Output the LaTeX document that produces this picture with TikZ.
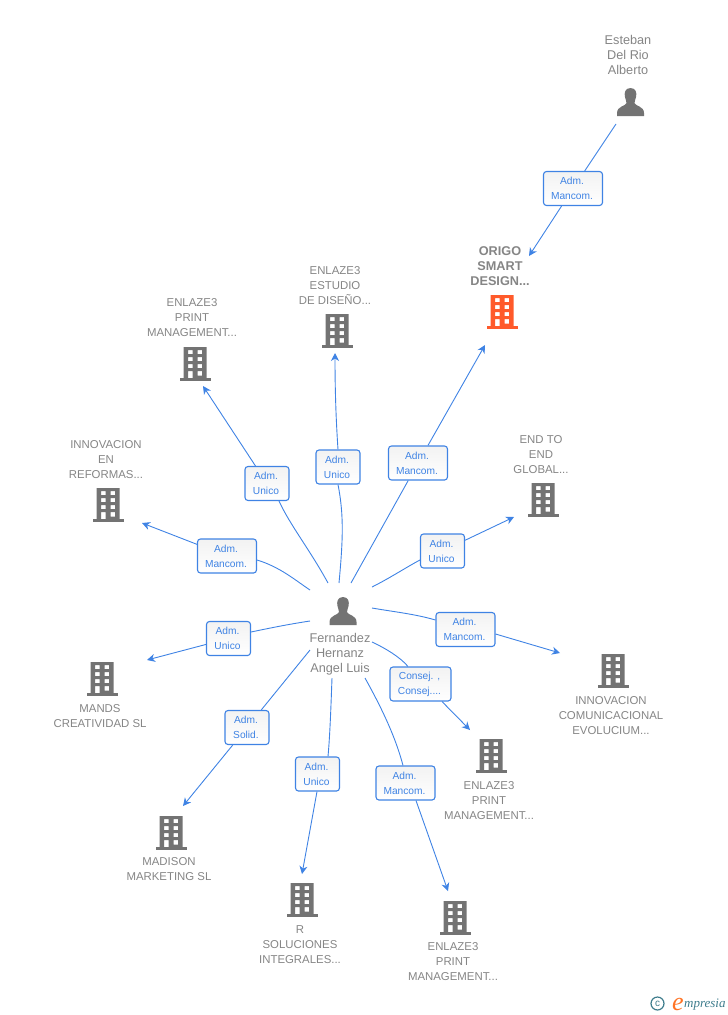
\documentclass[tikz,border=0pt]{standalone}
\usepackage{fontspec}
\setmainfont{Liberation Sans}
\newfontfamily\logofont{Liberation Serif}
\usetikzlibrary{arrows.meta,shadings}
\definecolor{linkblue}{HTML}{3F83E4}
\definecolor{txtgray}{HTML}{858585}
\definecolor{icongray}{HTML}{737373}
\definecolor{hotorange}{HTML}{FF5A2B}
\definecolor{logoteal}{HTML}{3E7C8C}
\newcommand{\rl}[2]{#1\hspace*{2pt}\\#2\hspace*{2pt}}
\tikzset{
  x=1pt,y=-1pt,
  conn/.style={draw=linkblue,line width=0.9pt},
  connarrow/.style={conn,-{Stealth[length=8pt,width=8pt,inset=2.5pt]}},
  rolebox/.style={draw=linkblue,line width=1.1pt,rounded corners=3pt,top color=black!5,bottom color=white,inner sep=0pt,align=center,text=linkblue,
     font=\fontsize{10.2}{15}\selectfont,minimum height=34pt},
  rolem/.style={rolebox,minimum width=59pt},
  roleu/.style={rolebox,minimum width=44pt},
  nametxt/.style={text=txtgray,align=center,inner sep=0pt,font=\fontsize{11.4}{15}\selectfont},
  persontxt/.style={nametxt,font=\fontsize{12.7}{15}\selectfont},
  boldtxt/.style={nametxt,font=\fontsize{12.7}{15}\selectfont\bfseries},
  pics/bldg/.style={code={
    \fill[#1,even odd rule] (-11.5,-17) rectangle (11.5,14)
      (-7,-14) rectangle (-2.5,-10) (2.5,-14) rectangle (7,-10)
      (-7,-7) rectangle (-2.5,-3) (2.5,-7) rectangle (7,-3)
      (-7,0) rectangle (-2.5,4) (2.5,0) rectangle (7,4)
      (-7,7) rectangle (-2.5,14) (2.5,7) rectangle (7,11.5);
    \fill[#1] (-15.5,13.5) rectangle (15.5,16.5);
  }},
  pics/person/.style={code={
    \fill[icongray] (0,-14) .. controls (-5.5,-14) and (-6.5,-9) .. (-5.5,-5)
      .. controls (-5,-2) and (-4,-1) .. (-4,1)
      .. controls (-4.5,4) and (-13.5,4) .. (-13.5,11) -- (-13.5,14) -- (13.5,14) -- (13.5,11)
      .. controls (13.5,4) and (4.5,4) .. (4,1)
      .. controls (4,-1) and (5,-2) .. (5.5,-5)
      .. controls (6.5,-9) and (5.5,-14) .. (0,-14) -- cycle;
  }},
}
\begin{document}
\begin{tikzpicture}
\useasboundingbox (0,0) rectangle (728,1015);
% icons
\pic at (630.5,102) {person};
\pic at (343,611) {person};
\pic at (502,312) {bldg=hotorange};
\pic at (337,331) {bldg=icongray};
\pic at (195,364) {bldg=icongray};
\pic at (108,505) {bldg=icongray};
\pic at (543,500) {bldg=icongray};
\pic at (613,671) {bldg=icongray};
\pic at (491,756) {bldg=icongray};
\pic at (455,918) {bldg=icongray};
\pic at (302,900) {bldg=icongray};
\pic at (171,833) {bldg=icongray};
\pic at (102,679) {bldg=icongray};
% names
\node[persontxt] (nEsteban) at (628,55) {Esteban\\Del Rio\\Alberto};
\node[boldtxt] (nOrigo) at (500,266) {ORIGO\\SMART\\DESIGN...};
\node[nametxt] (nEstudio) at (335,286) {ENLAZE3\\ESTUDIO\\DE DISEÑO...};
\node[nametxt] (nPrintA) at (192,318) {ENLAZE3\\PRINT\\MANAGEMENT...};
\node[nametxt] (nReformas) at (106,460) {INNOVACION\\EN\\REFORMAS...};
\node[nametxt] (nEnd) at (541,455) {END TO\\END\\GLOBAL...};
\node[persontxt] (nFern) at (340,654) {Fernandez\\Hernanz\\Angel Luis};
\node[nametxt] (nEvol) at (611,716) {INNOVACION\\COMUNICACIONAL\\EVOLUCIUM...};
\node[nametxt] (nPrintB) at (489,801) {ENLAZE3\\PRINT\\MANAGEMENT...};
\node[nametxt] (nPrintC) at (453,962) {ENLAZE3\\PRINT\\MANAGEMENT...};
\node[nametxt] (nR) at (300,945) {R\\SOLUCIONES\\INTEGRALES...};
\node[nametxt] (nMadison) at (169,869) {MADISON\\MARKETING SL};
\node[nametxt] (nMands) at (100,716) {MANDS\\CREATIVIDAD SL};
% role boxes
\node[rolem] (rEsteban) at (573,188.5) {\rl{Adm.}{Mancom.}};
\node[rolem] (rOrigo) at (418,463) {\rl{Adm.}{Mancom.}};
\node[roleu] (rEstudio) at (338,467) {\rl{Adm.}{Unico}};
\node[roleu] (rPrintA) at (267,483.5) {\rl{Adm.}{Unico}};
\node[rolem] (rReformas) at (227,556) {\rl{Adm.}{Mancom.}};
\node[roleu] (rEnd) at (442.5,551) {\rl{Adm.}{Unico}};
\node[roleu] (rMands) at (228.5,638.5) {\rl{Adm.}{Unico}};
\node[rolem] (rEvol) at (465.5,629.5) {\rl{Adm.}{Mancom.}};
\node[rolem,minimum width=61pt] (rPrintB) at (420.5,684) {\rl{Consej. ,}{Consej....}};
\node[roleu] (rMadison) at (247,727.5) {\rl{Adm.}{Solid.}};
\node[roleu] (rR) at (317.5,774) {\rl{Adm.}{Unico}};
\node[rolem] (rPrintC) at (405.5,783) {\rl{Adm.}{Mancom.}};
% connector ends
\coordinate (sEsteban) at (616,124);
\coordinate (eOrigoIn) at (529,256);
\coordinate (sOrigo) at (351,583);
\coordinate (eOrigo) at (485,345);
\coordinate (sEstudio) at (339,583);
\coordinate (eEstudio) at (335,353);
\coordinate (sPrintA) at (328,583);
\coordinate (ePrintA) at (203,386);
\coordinate (sReformas) at (310,590);
\coordinate (eReformas) at (142,523);
\coordinate (sEnd) at (372,587);
\coordinate (eEnd) at (514,517);
\coordinate (sMands) at (310,621);
\coordinate (eMands) at (147,660);
\coordinate (sEvol) at (372,608);
\coordinate (eEvol) at (560,653);
\coordinate (sPrintB) at (372,642);
\coordinate (ePrintB) at (470,730);
\coordinate (sMadison) at (310,650);
\coordinate (eMadison) at (183,806);
\coordinate (sR) at (332,678);
\coordinate (eR) at (302,874);
\coordinate (sPrintC) at (365,678);
\coordinate (ePrintC) at (448,891);
% connectors
\draw[conn] (sEsteban) -- (rEsteban);
\draw[connarrow] (rEsteban) -- (eOrigoIn);
\draw[conn] (sOrigo) -- (rOrigo);
\draw[connarrow] (rOrigo) -- (eOrigo);
\draw[conn] (sEstudio) .. controls (343,540) and (344,515) .. (rEstudio.south);
\draw[connarrow] (rEstudio.north) .. controls (336,420) and (335,390) .. (eEstudio);
\draw[conn] (sPrintA) .. controls (310,550) and (290,525) .. ([xshift=12pt]rPrintA.south);
\draw[connarrow] (rPrintA) -- (ePrintA);
\draw[conn] (sReformas) .. controls (295,580) and (280,567) .. ([yshift=-4pt]rReformas.east);
\draw[connarrow] (rReformas) -- (eReformas);
\draw[conn] (sEnd) .. controls (390,578) and (405,568) .. ([yshift=-9pt]rEnd.west);
\draw[connarrow] (rEnd) -- (eEnd);
\draw[conn] (sMands) .. controls (290,624) and (270,628) .. ([yshift=6.5pt]rMands.east);
\draw[connarrow] (rMands) -- (eMands);
\draw[conn] (sEvol) .. controls (395,612) and (415,614) .. ([yshift=9.5pt]rEvol.west);
\draw[connarrow] ([yshift=-4.5pt]rEvol.east) -- (eEvol);
\draw[conn] (sPrintB) .. controls (385,648) and (400,657) .. ([xshift=-12.5pt]rPrintB.north);
\draw[connarrow] ([xshift=21.5pt]rPrintB.south) -- (ePrintB);
\draw[conn] (sMadison) -- (rMadison);
\draw[connarrow] (rMadison) -- (eMadison);
\draw[conn] (sR) .. controls (331,705) and (330,735) .. ([xshift=10.5pt]rR.north);
\draw[connarrow] ([xshift=-0.5pt]rR.south) -- (eR);
\draw[conn] (sPrintC) .. controls (380,705) and (395,735) .. ([xshift=-2.5pt]rPrintC.north);
\draw[connarrow] ([xshift=10.5pt]rPrintC.south) -- (ePrintC);
% logo
\node[circle,draw=logoteal,line width=1.2pt,inner sep=0pt,minimum size=13pt,text=logoteal,font=\fontsize{10}{10}\selectfont] (logoC) at (657.5,1003.5) {c};
\node[inner sep=0pt,anchor=west,text=hotorange!85!yellow,font=\fontsize{26}{26}\logofont\itshape] (logoE) at (672,1004) {e};
\node[inner sep=0pt,anchor=west,text=logoteal,font=\fontsize{13}{13}\logofont\itshape] (logoT) at (684,1005) {mpresia};
\end{tikzpicture}
\end{document}
